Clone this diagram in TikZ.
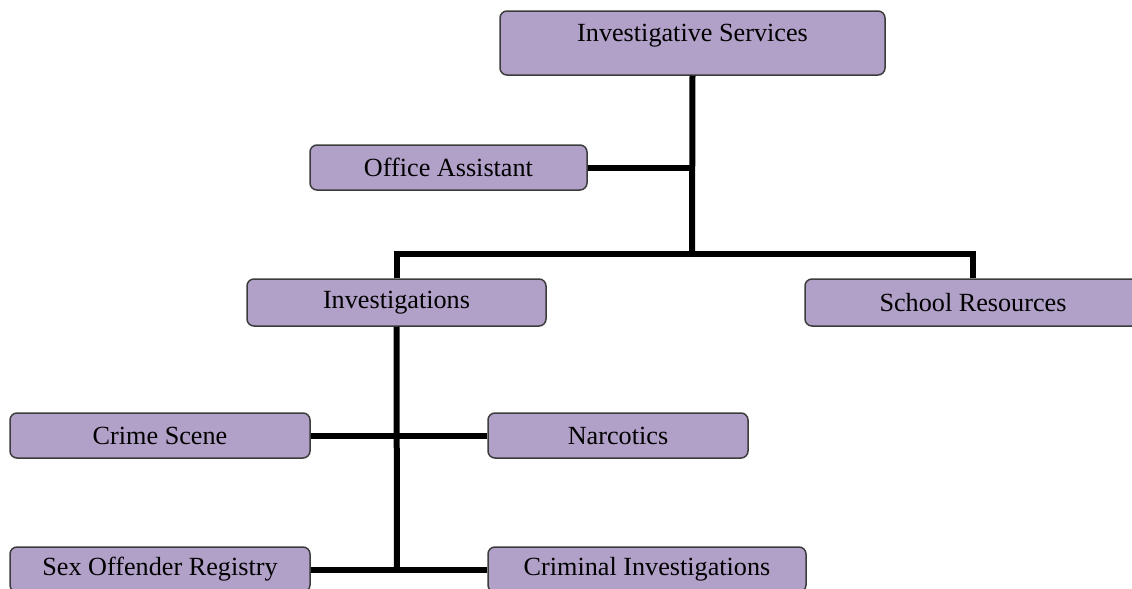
\documentclass[tikz,border=0pt]{standalone}
\usepackage{fontspec}
\setmainfont{Liberation Serif}
\definecolor{boxfill}{HTML}{B1A0C7}
\definecolor{boxline}{HTML}{3C3C3C}
\tikzset{
    box/.style = {draw = boxline, fill = boxfill, line width = 0.75pt,
        rounded corners = 3.5pt, inner sep = 0pt,
        font = \fontsize{13.1}{15}\selectfont},
    conn/.style = {line width = 3pt, line join = miter}
}

\begin{document}
\begin{tikzpicture}[x = 0.5pt, y = -0.5pt]

    \clip (0,0) rectangle (1132,589);
    \fill[white] (0,0) rectangle (1132,589);


    \node[box,
    minimum width = 192.5pt, 
    minimum height = 32pt,
    text height = 9pt, text depth = 11pt] (is) at (692.5,43) {Investigative Services};

    \node[box,
    minimum width = 138.5pt, 
    minimum height = 22.5pt] (oa) at (448.5,167.5) {Office Assistant};

    \node[box,
    minimum width = 149.5pt, 
    minimum height = 23.5pt] (inv) at (396.5,302.5) {Investigations};

    \node[box,
    minimum width = 168pt, 
    minimum height = 23.5pt] (sr) at (973,302.5) {School Resources};

    \node[box,
    minimum width = 150pt, 
    minimum height = 22.5pt] (cs) at (160,435.5) {Crime Scene};

    \node[box,
    minimum width = 130pt, 
    minimum height = 22.5pt] (nar) at (618,435.5) {Narcotics};

    \node[box,
    minimum width = 150pt, 
    minimum height = 22.5pt] (sor) at (160,569.5) {Sex Offender Registry};

    \node[box,
    minimum width = 159pt, 
    minimum height = 22.5pt] (ci) at (647,569.5) {Criminal Investigations};


    \coordinate (split) at (692,254);
    \coordinate (ibot) at (397,571);

      \draw[conn] (is.south) -- (split);
      \draw[conn] (oa.east) -- (oa.east -| is.south);
      \draw[conn] (inv.north) |- (split) -| (sr.north);

      \draw[conn] (inv.south) -- (ibot);
      \draw[conn] (cs.east) -- (nar.west);
      \draw[conn] (sor.east) -- (ci.west);
  \end{tikzpicture}
\end{document}
